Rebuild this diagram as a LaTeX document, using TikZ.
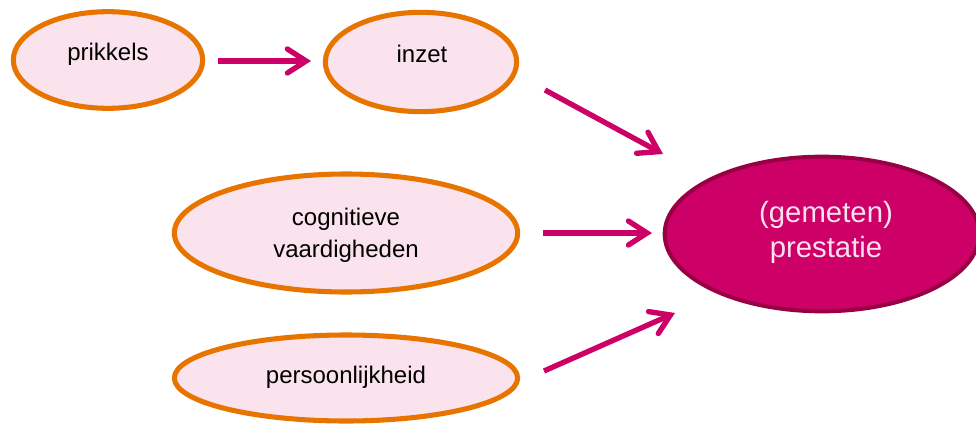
\documentclass[tikz,border=0pt]{standalone}
\usepackage{fontspec}
\setmainfont{Liberation Sans}
\usetikzlibrary{arrows.meta,shapes.geometric}
\definecolor{orangeb}{RGB}{232,116,0}
\definecolor{pinkfill}{RGB}{250,227,237}
\definecolor{crimson}{RGB}{204,0,102}
\definecolor{darkcrimson}{RGB}{153,0,68}
\definecolor{lighttext}{RGB}{252,224,238}
\tikzset{
  factor/.style={ellipse, draw=orangeb, fill=pinkfill, line width=3.8pt, inner sep=0pt},
  outcome/.style={ellipse, draw=darkcrimson, fill=crimson, line width=3pt, inner sep=0pt},
  lbl/.style={anchor=base, font=\fontsize{18pt}{21pt}\selectfont, text=black, inner sep=0pt},
  olbl/.style={anchor=base, font=\fontsize{22pt}{26pt}\selectfont, text=lighttext, inner sep=0pt},
  arr/.style={draw=crimson, line width=4pt, -{Straight Barb[length=14pt,width=18pt,line cap=round]}}
}
\begin{document}
\begin{tikzpicture}[x=0.75pt,y=-0.75pt]
\useasboundingbox (0,0) rectangle (976,425);
% ellipses
\node[factor, minimum width=142pt, minimum height=72.5pt] (prik) at (108,60) {};
\node[factor, minimum width=143.5pt, minimum height=74.5pt] (inzet) at (421,62) {};
\node[factor, minimum width=257.5pt, minimum height=88.5pt] (cog) at (346,233) {};
\node[factor, minimum width=257.5pt, minimum height=64.5pt] (pers) at (346,378) {};
\node[outcome, minimum width=236pt, minimum height=116pt] (prest) at (822,234) {};
% labels
\node[lbl] (tprik) at (108,60) {prikkels};
\node[lbl] (tinzet) at (422,62) {inzet};
\node[lbl] (tcog1) at (346,225) {cognitieve};
\node[lbl] (tcog2) at (346,257) {vaardigheden};
\node[lbl] (tpers) at (346,383) {persoonlijkheid};
\node[olbl] (tprest1) at (826,222) {(gemeten)};
\node[olbl] (tprest2) at (826,257) {prestatie};
% arrow end points
\coordinate (a1s) at (218,61); \coordinate (a1e) at (311,61);
\coordinate (a2s) at (545,90); \coordinate (a2e) at (663,154);
\coordinate (a3s) at (543,233); \coordinate (a3e) at (652,233);
\coordinate (a4s) at (544,371); \coordinate (a4e) at (675,313);
\draw[arr] (a1s) -- (a1e);
\draw[arr] (a2s) -- (a2e);
\draw[arr] (a3s) -- (a3e);
\draw[arr] (a4s) -- (a4e);
\end{tikzpicture}
\end{document}
